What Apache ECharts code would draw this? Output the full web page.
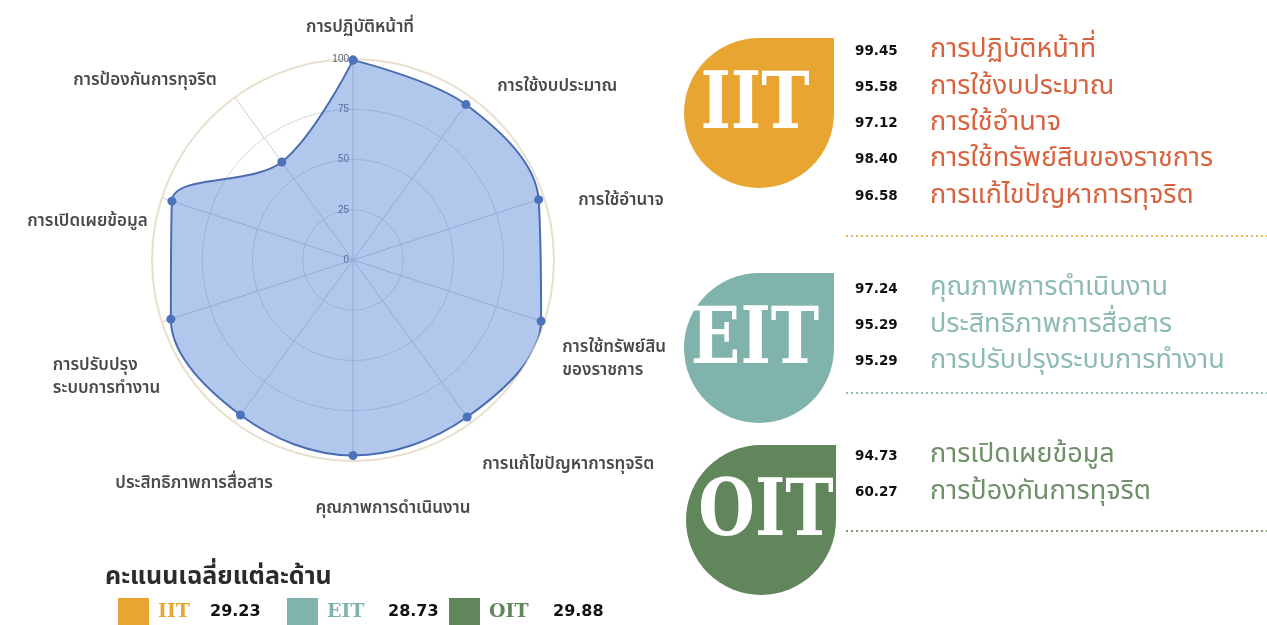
<!DOCTYPE html>
<html>
<head>
<meta charset="utf-8">
<script src="https://cdn.jsdelivr.net/npm/echarts@6/dist/echarts.min.js"></script>
<style>
html,body{margin:0;padding:0;background:#fff;}
#chart{width:1267px;height:625px;}
</style>
</head>
<body>
<div id="chart"></div>
<script>
// ---- data (clockwise from top) ----
const categories = [
  'การปฏิบัติหน้าที่', 'การใช้งบประมาณ', 'การใช้อำนาจ', 'การใช้ทรัพย์สินของราชการ',
  'การแก้ไขปัญหาการทุจริต', 'คุณภาพการดำเนินงาน', 'ประสิทธิภาพการสื่อสาร',
  'การปรับปรุงระบบการทำงาน', 'การเปิดเผยข้อมูล', 'การป้องกันการทุจริต'
];
const radarLabels = [
  'การปฏิบัติหน้าที่', 'การใช้งบประมาณ', 'การใช้อำนาจ', 'การใช้ทรัพย์สิน\nของราชการ',
  'การแก้ไขปัญหาการทุจริต', 'คุณภาพการดำเนินงาน', 'ประสิทธิภาพการสื่อสาร',
  'การปรับปรุง\nระบบการทำงาน', 'การเปิดเผยข้อมูล', 'การป้องกันการทุจริต'
];
const scores = [99.45, 95.58, 97.12, 98.40, 96.58, 97.24, 95.29, 95.29, 94.73, 60.27];
const groupOf = ['IIT', 'IIT', 'IIT', 'IIT', 'IIT', 'EIT', 'EIT', 'EIT', 'OIT', 'OIT'];
const groups = ['IIT', 'EIT', 'OIT'];
const groupAverages = [29.23, 28.73, 29.88];
const legendTitle = 'คะแนนเฉลี่ยแต่ละด้าน';
const radiusTicks = [0, 25, 50, 75, 100];

// ---- styles / layout ----
const groupColors = { IIT: '#e9a531', EIT: '#7fb3ab', OIT: '#62865b' };
const nameColors = { IIT: '#d9623e', EIT: '#8dbab3', OIT: '#6e8f67' };
const dotColors = { IIT: '#e8b651', EIT: '#8fbcb4', OIT: '#7e9c76' };
const badgeBoxes = { IIT: { cx: 759, cy: 113, tx: -4 }, EIT: { cx: 759, cy: 348, tx: -4 }, OIT: { cx: 761, cy: 520, tx: 5 } };
const listTop = { IIT: 51, EIT: 289, OIT: 456 };
const dotY = { IIT: 236, EIT: 393, OIT: 531 };
const rowGap = 36.3;
const thai = '"Noto Sans Thai","Noto Sans","DejaVu Sans",sans-serif';
// per-label placement around the radar
const labelAlign = ['center', 'left', 'left', 'left', 'left', 'center', 'right', 'left', 'right', 'right'];
const labelOffset = [[7, -30], [26, -10], [34, 4], [18, 38], [11, 43], [40, 49], [38, 62], [-109, 56], [-14, 25], [-18, -16]];

const seriesData = scores.map((v, i) => [v, i]);
seriesData.push([scores[0], categories.length]);

const labelData = categories.map((c, i) => ({
  value: [radiusTicks[radiusTicks.length - 1], i],
  label: { formatter: radarLabels[i], align: labelAlign[i], offset: labelOffset[i] }
}));

const graphics = [];
groups.forEach(g => {
  const b = badgeBoxes[g], r = 75;
  graphics.push({ type: 'circle', z: 1, shape: { cx: b.cx, cy: b.cy, r: r }, style: { fill: groupColors[g] } });
  graphics.push({ type: 'rect', z: 1, shape: { x: b.cx, y: b.cy - r, width: r, height: r }, style: { fill: groupColors[g] } });
  graphics.push({
    type: 'text', z: 2, x: b.cx + b.tx, y: b.cy - 5, scaleY: 1.2,
    style: { text: g, fill: '#fff', fontSize: 65, fontWeight: 'bold', fontFamily: '"DejaVu Serif", serif', align: 'center', verticalAlign: 'middle' }
  });
  let k = 0;
  categories.forEach((c, i) => {
    if (groupOf[i] !== g) return;
    const y = listTop[g] + k * rowGap;
    graphics.push({
      type: 'text', x: 855, y: y,
      style: { text: scores[i].toFixed(2), fill: '#111', fontSize: 13.5, fontWeight: 'bold', fontFamily: '"DejaVu Sans", sans-serif', verticalAlign: 'middle' }
    });
    graphics.push({
      type: 'text', x: 930, y: y + 1,
      style: { text: c, fill: nameColors[g], fontSize: 27, fontFamily: thai, verticalAlign: 'middle' }
    });
    k++;
  });
  graphics.push({
    type: 'line', shape: { x1: 846, y1: dotY[g], x2: 1267, y2: dotY[g] },
    style: { stroke: dotColors[g], lineWidth: 2, lineDash: [2, 3] }
  });
});
graphics.push({
  type: 'text', x: 105, y: 579,
  style: { text: legendTitle, fill: '#2b2b2b', fontSize: 25, fontWeight: 'bold', fontFamily: thai, verticalAlign: 'middle' }
});
const legX = [118, 287, 449];
const legValX = [210, 388, 553];
groups.forEach((g, i) => {
  graphics.push({ type: 'rect', shape: { x: legX[i], y: 598, width: 31, height: 30 }, style: { fill: groupColors[g] } });
  graphics.push({
    type: 'text', x: legX[i] + 40, y: 612,
    style: { text: g, fill: groupColors[g], fontSize: 19, fontWeight: 'bold', fontFamily: '"DejaVu Serif", serif', verticalAlign: 'middle' }
  });
  graphics.push({
    type: 'text', x: legValX[i], y: 612,
    style: { text: groupAverages[i].toFixed(2), fill: '#111', fontSize: 16, fontWeight: 'bold', fontFamily: '"DejaVu Sans", sans-serif', verticalAlign: 'middle' }
  });
});

const chart = echarts.init(document.getElementById('chart'));
chart.setOption({
  backgroundColor: '#fff',
  animation: false,
  polar: { center: [353, 260], radius: 201 },
  angleAxis: {
    type: 'value', min: 0, max: categories.length, interval: 1,
    startAngle: 90, clockwise: true,
    axisLine: { show: true, lineStyle: { color: '#eadfcd', width: 2 } },
    axisTick: { show: false },
    splitLine: { show: true, lineStyle: { color: '#c9ced8', width: 1 } },
    axisLabel: { show: false }
  },
  radiusAxis: {
    type: 'value', min: radiusTicks[0], max: radiusTicks[radiusTicks.length - 1], interval: 25,
    axisLine: { show: false }, axisTick: { show: false },
    splitLine: { show: true, lineStyle: { color: '#d6d9df', width: 1 } },
    axisLabel: { fontSize: 10, color: '#55627a', margin: 4 }
  },
  series: [{
    type: 'line', coordinateSystem: 'polar',
    data: seriesData,
    smooth: 0.35,
    symbol: 'circle', symbolSize: 9,
    itemStyle: { color: '#4d71bb' },
    lineStyle: { color: '#4a6cb2', width: 2 },
    areaStyle: { color: 'rgba(80,128,212,0.44)', opacity: 1 }
  }, {
    type: 'scatter', coordinateSystem: 'polar',
    data: labelData,
    symbolSize: 1,
    itemStyle: { color: 'rgba(0,0,0,0)' },
    silent: true,
    label: {
      show: true, position: 'inside', verticalAlign: 'middle',
      color: '#1a1a1a', fontSize: 17, fontWeight: 600, fontFamily: thai, lineHeight: 23
    }
  }],
  graphic: graphics
});
</script>
</body>
</html>
